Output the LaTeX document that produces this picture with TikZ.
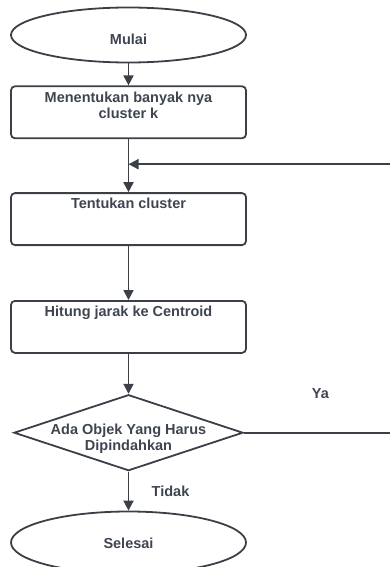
\documentclass[tikz,border=0pt]{standalone}
\usepackage{fontspec}
\usepackage{xcolor}
\newfontfamily\flowfont{Liberation Sans}
\usetikzlibrary{shapes.geometric, arrows.meta}
\usetikzlibrary{positioning}
\definecolor{linegrey}{HTML}{3B4048}
\definecolor{textgrey}{HTML}{3F4550}
\tikzstyle{flowtext} = [font=\flowfont\bfseries\fontsize{14.5}{16}\selectfont,text=textgrey,align=center]
\tikzstyle{terminal} = [ellipse,draw=linegrey,line width=1.8pt,minimum width=235pt]
\tikzstyle{process} = [rectangle,rounded corners=4pt,draw=linegrey,line width=1.8pt,minimum width=235pt,minimum height=52pt]
\tikzstyle{decision} = [diamond,draw=linegrey,line width=1.8pt,minimum width=229pt,minimum height=76pt,inner sep=0pt]
\tikzstyle{flow} = [draw=linegrey,line width=1.8pt,-{Triangle[length=10pt,width=10pt]}]
\tikzstyle{plain} = [draw=linegrey,line width=1.8pt]

\begin{document}
\begin{tikzpicture}
        \useasboundingbox (0,0) rectangle (389pt,-567pt);
        % start and steps
        \node (n1) [terminal,minimum height=55pt,label={[flowtext,yshift=-4pt]center:Mulai}] at (128.5pt,-35pt) {};
        \node (n2) [process,below=22pt of n1,label={[flowtext,anchor=north,yshift=-3pt]north:Menentukan banyak nya\\cluster k}] {};
        \node (n3) [process,below=53pt of n2,label={[flowtext,anchor=north,yshift=-2pt]north:Tentukan cluster}] {};
        \node (n4) [process,below=54pt of n3,label={[flowtext,anchor=north,yshift=-2pt]north:Hitung jarak ke Centroid}] {};
        % decision and end
        \node (n5) [decision,below=40pt of n4,label={[flowtext,yshift=-6pt]center:Ada Objek Yang Harus\\Dipindahkan}] {};
        \node (n6) [terminal,minimum height=62pt,below=39pt of n5,label={[flowtext,yshift=-1pt]center:Selesai}] {};
        % loop points
        \coordinate [below=25pt of n2.south] (m1);
        \coordinate [right=147pt of n5.east] (c1);
        \coordinate (c2) at (c1 |- m1);
        % connectors
        \draw [flow] (n1) -- (n2);
        \draw [flow] (n2) -- (n3);
        \draw [flow] (n3) -- (n4);
        \draw [flow] (n4) -- (n5);
        \draw [flow] (n5) -- node[flowtext,right=19pt] {Tidak} (n6);
        \draw [plain] (n5.east) -- node[flowtext,pos=0.52,above=30pt] {Ya} (c1);
        \draw [flow] (c2) -- (m1);
\end{tikzpicture}
\end{document}
